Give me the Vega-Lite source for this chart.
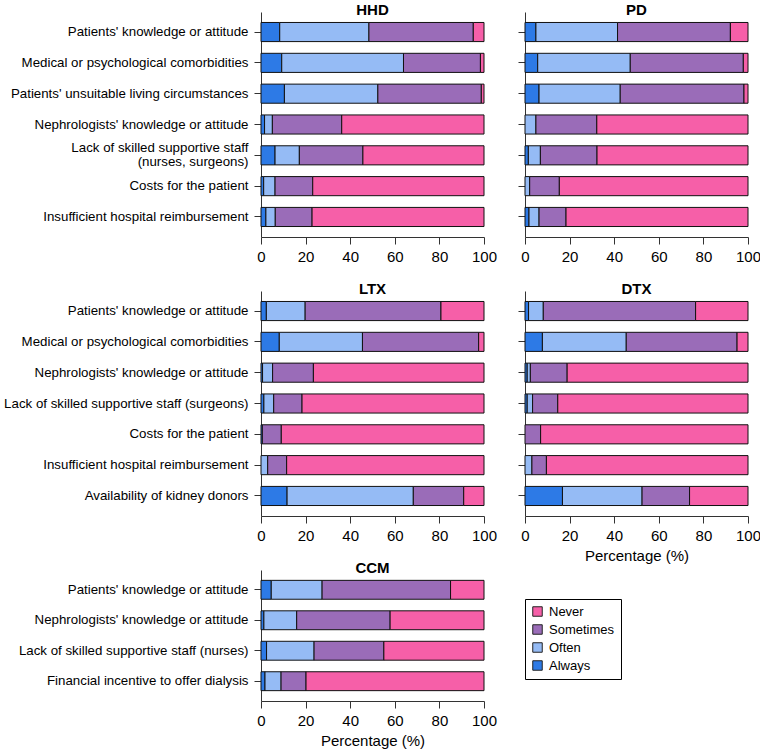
{
  "$schema": "https://vega.github.io/schema/vega-lite/v6.json",
  "padding": {"left": 3, "top": 3, "right": 2, "bottom": 2},
  "background": "white",
  "config": {
    "font": "Liberation Sans",
    "view": {"stroke": null},
    "axis": {"domainColor": "#333", "tickColor": "#333", "labelColor": "#000", "titleColor": "#000", "grid": false, "labelFont": "Liberation Sans", "titleFont": "Liberation Sans", "titleFontWeight": "normal"},
    "axisX": {"labelFontSize": 15, "titleFontSize": 15, "tickSize": 7, "labelPadding": 5, "titlePadding": 5, "values": [0, 20, 40, 60, 80, 100], "labelFlush": false},
    "axisY": {"labelFontSize": 13.3, "tickSize": 7, "labelPadding": 6},
    "title": {"fontSize": 15, "fontWeight": "bold", "offset": -6, "font": "Liberation Sans", "color": "#000"},
    "scale": {"bandPaddingInner": 0.38, "bandPaddingOuter": 0.34},
    "legend": {"strokeColor": "#000", "fillColor": "white", "padding": 6, "labelFontSize": 13, "labelFont": "Liberation Sans", "labelColor": "#000", "symbolType": "square", "symbolSize": 90, "symbolStrokeColor": "#222", "symbolStrokeWidth": 1, "rowPadding": 3, "labelOffset": 5, "cornerRadius": 0}
  },
  "datasets": {
    "d": [
      {"panel": "HHD", "item": "Patients' knowledge or attitude", "response": "Always", "ord": 1, "value": 8.4},
      {"panel": "HHD", "item": "Patients' knowledge or attitude", "response": "Often", "ord": 2, "value": 40.0},
      {"panel": "HHD", "item": "Patients' knowledge or attitude", "response": "Sometimes", "ord": 3, "value": 46.8},
      {"panel": "HHD", "item": "Patients' knowledge or attitude", "response": "Never", "ord": 4, "value": 4.8},
      {"panel": "HHD", "item": "Medical or psychological comorbidities", "response": "Always", "ord": 1, "value": 9.3},
      {"panel": "HHD", "item": "Medical or psychological comorbidities", "response": "Often", "ord": 2, "value": 54.6},
      {"panel": "HHD", "item": "Medical or psychological comorbidities", "response": "Sometimes", "ord": 3, "value": 34.5},
      {"panel": "HHD", "item": "Medical or psychological comorbidities", "response": "Never", "ord": 4, "value": 1.6},
      {"panel": "HHD", "item": "Patients' unsuitable living circumstances", "response": "Always", "ord": 1, "value": 10.5},
      {"panel": "HHD", "item": "Patients' unsuitable living circumstances", "response": "Often", "ord": 2, "value": 41.9},
      {"panel": "HHD", "item": "Patients' unsuitable living circumstances", "response": "Sometimes", "ord": 3, "value": 46.4},
      {"panel": "HHD", "item": "Patients' unsuitable living circumstances", "response": "Never", "ord": 4, "value": 1.2},
      {"panel": "HHD", "item": "Nephrologists' knowledge or attitude", "response": "Always", "ord": 1, "value": 1.6},
      {"panel": "HHD", "item": "Nephrologists' knowledge or attitude", "response": "Often", "ord": 2, "value": 3.5},
      {"panel": "HHD", "item": "Nephrologists' knowledge or attitude", "response": "Sometimes", "ord": 3, "value": 31.1},
      {"panel": "HHD", "item": "Nephrologists' knowledge or attitude", "response": "Never", "ord": 4, "value": 63.8},
      {"panel": "HHD", "item": "Lack of skilled supportive staff|(nurses, surgeons)", "response": "Always", "ord": 1, "value": 6.3},
      {"panel": "HHD", "item": "Lack of skilled supportive staff|(nurses, surgeons)", "response": "Often", "ord": 2, "value": 10.9},
      {"panel": "HHD", "item": "Lack of skilled supportive staff|(nurses, surgeons)", "response": "Sometimes", "ord": 3, "value": 28.5},
      {"panel": "HHD", "item": "Lack of skilled supportive staff|(nurses, surgeons)", "response": "Never", "ord": 4, "value": 54.3},
      {"panel": "HHD", "item": "Costs for the patient", "response": "Always", "ord": 1, "value": 1.2},
      {"panel": "HHD", "item": "Costs for the patient", "response": "Often", "ord": 2, "value": 5.1},
      {"panel": "HHD", "item": "Costs for the patient", "response": "Sometimes", "ord": 3, "value": 16.9},
      {"panel": "HHD", "item": "Costs for the patient", "response": "Never", "ord": 4, "value": 76.8},
      {"panel": "HHD", "item": "Insufficient hospital reimbursement", "response": "Always", "ord": 1, "value": 2.2},
      {"panel": "HHD", "item": "Insufficient hospital reimbursement", "response": "Often", "ord": 2, "value": 4.2},
      {"panel": "HHD", "item": "Insufficient hospital reimbursement", "response": "Sometimes", "ord": 3, "value": 16.5},
      {"panel": "HHD", "item": "Insufficient hospital reimbursement", "response": "Never", "ord": 4, "value": 77.1},

      {"panel": "PD", "item": "Patients' knowledge or attitude", "response": "Always", "ord": 1, "value": 4.9},
      {"panel": "PD", "item": "Patients' knowledge or attitude", "response": "Often", "ord": 2, "value": 36.6},
      {"panel": "PD", "item": "Patients' knowledge or attitude", "response": "Sometimes", "ord": 3, "value": 50.6},
      {"panel": "PD", "item": "Patients' knowledge or attitude", "response": "Never", "ord": 4, "value": 7.9},
      {"panel": "PD", "item": "Medical or psychological comorbidities", "response": "Always", "ord": 1, "value": 5.7},
      {"panel": "PD", "item": "Medical or psychological comorbidities", "response": "Often", "ord": 2, "value": 41.5},
      {"panel": "PD", "item": "Medical or psychological comorbidities", "response": "Sometimes", "ord": 3, "value": 50.7},
      {"panel": "PD", "item": "Medical or psychological comorbidities", "response": "Never", "ord": 4, "value": 2.1},
      {"panel": "PD", "item": "Patients' unsuitable living circumstances", "response": "Always", "ord": 1, "value": 6.3},
      {"panel": "PD", "item": "Patients' unsuitable living circumstances", "response": "Often", "ord": 2, "value": 36.4},
      {"panel": "PD", "item": "Patients' unsuitable living circumstances", "response": "Sometimes", "ord": 3, "value": 55.5},
      {"panel": "PD", "item": "Patients' unsuitable living circumstances", "response": "Never", "ord": 4, "value": 1.8},
      {"panel": "PD", "item": "Nephrologists' knowledge or attitude", "response": "Often", "ord": 2, "value": 4.9},
      {"panel": "PD", "item": "Nephrologists' knowledge or attitude", "response": "Sometimes", "ord": 3, "value": 27.3},
      {"panel": "PD", "item": "Nephrologists' knowledge or attitude", "response": "Never", "ord": 4, "value": 67.8},
      {"panel": "PD", "item": "Lack of skilled supportive staff|(nurses, surgeons)", "response": "Always", "ord": 1, "value": 1.5},
      {"panel": "PD", "item": "Lack of skilled supportive staff|(nurses, surgeons)", "response": "Often", "ord": 2, "value": 5.4},
      {"panel": "PD", "item": "Lack of skilled supportive staff|(nurses, surgeons)", "response": "Sometimes", "ord": 3, "value": 25.4},
      {"panel": "PD", "item": "Lack of skilled supportive staff|(nurses, surgeons)", "response": "Never", "ord": 4, "value": 67.7},
      {"panel": "PD", "item": "Costs for the patient", "response": "Often", "ord": 2, "value": 2.1},
      {"panel": "PD", "item": "Costs for the patient", "response": "Sometimes", "ord": 3, "value": 13.3},
      {"panel": "PD", "item": "Costs for the patient", "response": "Never", "ord": 4, "value": 84.6},
      {"panel": "PD", "item": "Insufficient hospital reimbursement", "response": "Always", "ord": 1, "value": 1.8},
      {"panel": "PD", "item": "Insufficient hospital reimbursement", "response": "Often", "ord": 2, "value": 4.5},
      {"panel": "PD", "item": "Insufficient hospital reimbursement", "response": "Sometimes", "ord": 3, "value": 12.1},
      {"panel": "PD", "item": "Insufficient hospital reimbursement", "response": "Never", "ord": 4, "value": 81.6},

      {"panel": "LTX", "item": "Patients' knowledge or attitude", "response": "Always", "ord": 1, "value": 2.4},
      {"panel": "LTX", "item": "Patients' knowledge or attitude", "response": "Often", "ord": 2, "value": 17.4},
      {"panel": "LTX", "item": "Patients' knowledge or attitude", "response": "Sometimes", "ord": 3, "value": 60.9},
      {"panel": "LTX", "item": "Patients' knowledge or attitude", "response": "Never", "ord": 4, "value": 19.3},
      {"panel": "LTX", "item": "Medical or psychological comorbidities", "response": "Always", "ord": 1, "value": 8.2},
      {"panel": "LTX", "item": "Medical or psychological comorbidities", "response": "Often", "ord": 2, "value": 37.3},
      {"panel": "LTX", "item": "Medical or psychological comorbidities", "response": "Sometimes", "ord": 3, "value": 52.1},
      {"panel": "LTX", "item": "Medical or psychological comorbidities", "response": "Never", "ord": 4, "value": 2.4},
      {"panel": "LTX", "item": "Nephrologists' knowledge or attitude", "response": "Always", "ord": 1, "value": 0.7},
      {"panel": "LTX", "item": "Nephrologists' knowledge or attitude", "response": "Often", "ord": 2, "value": 4.5},
      {"panel": "LTX", "item": "Nephrologists' knowledge or attitude", "response": "Sometimes", "ord": 3, "value": 18.3},
      {"panel": "LTX", "item": "Nephrologists' knowledge or attitude", "response": "Never", "ord": 4, "value": 76.5},
      {"panel": "LTX", "item": "Lack of skilled supportive staff (surgeons)", "response": "Always", "ord": 1, "value": 1.3},
      {"panel": "LTX", "item": "Lack of skilled supportive staff (surgeons)", "response": "Often", "ord": 2, "value": 4.4},
      {"panel": "LTX", "item": "Lack of skilled supportive staff (surgeons)", "response": "Sometimes", "ord": 3, "value": 12.7},
      {"panel": "LTX", "item": "Lack of skilled supportive staff (surgeons)", "response": "Never", "ord": 4, "value": 81.6},
      {"panel": "LTX", "item": "Costs for the patient", "response": "Always", "ord": 1, "value": 0.6},
      {"panel": "LTX", "item": "Costs for the patient", "response": "Sometimes", "ord": 3, "value": 8.5},
      {"panel": "LTX", "item": "Costs for the patient", "response": "Never", "ord": 4, "value": 90.9},
      {"panel": "LTX", "item": "Insufficient hospital reimbursement", "response": "Often", "ord": 2, "value": 3.0},
      {"panel": "LTX", "item": "Insufficient hospital reimbursement", "response": "Sometimes", "ord": 3, "value": 8.5},
      {"panel": "LTX", "item": "Insufficient hospital reimbursement", "response": "Never", "ord": 4, "value": 88.5},
      {"panel": "LTX", "item": "Availability of kidney donors", "response": "Always", "ord": 1, "value": 11.7},
      {"panel": "LTX", "item": "Availability of kidney donors", "response": "Often", "ord": 2, "value": 56.6},
      {"panel": "LTX", "item": "Availability of kidney donors", "response": "Sometimes", "ord": 3, "value": 22.6},
      {"panel": "LTX", "item": "Availability of kidney donors", "response": "Never", "ord": 4, "value": 9.1},

      {"panel": "DTX", "item": "Patients' knowledge or attitude", "response": "Always", "ord": 1, "value": 1.6},
      {"panel": "DTX", "item": "Patients' knowledge or attitude", "response": "Often", "ord": 2, "value": 6.6},
      {"panel": "DTX", "item": "Patients' knowledge or attitude", "response": "Sometimes", "ord": 3, "value": 68.3},
      {"panel": "DTX", "item": "Patients' knowledge or attitude", "response": "Never", "ord": 4, "value": 23.5},
      {"panel": "DTX", "item": "Medical or psychological comorbidities", "response": "Always", "ord": 1, "value": 7.8},
      {"panel": "DTX", "item": "Medical or psychological comorbidities", "response": "Often", "ord": 2, "value": 37.6},
      {"panel": "DTX", "item": "Medical or psychological comorbidities", "response": "Sometimes", "ord": 3, "value": 49.7},
      {"panel": "DTX", "item": "Medical or psychological comorbidities", "response": "Never", "ord": 4, "value": 4.9},
      {"panel": "DTX", "item": "Nephrologists' knowledge or attitude", "response": "Always", "ord": 1, "value": 1.0},
      {"panel": "DTX", "item": "Nephrologists' knowledge or attitude", "response": "Often", "ord": 2, "value": 1.4},
      {"panel": "DTX", "item": "Nephrologists' knowledge or attitude", "response": "Sometimes", "ord": 3, "value": 16.5},
      {"panel": "DTX", "item": "Nephrologists' knowledge or attitude", "response": "Never", "ord": 4, "value": 81.1},
      {"panel": "DTX", "item": "Lack of skilled supportive staff (surgeons)", "response": "Always", "ord": 1, "value": 1.0},
      {"panel": "DTX", "item": "Lack of skilled supportive staff (surgeons)", "response": "Often", "ord": 2, "value": 2.4},
      {"panel": "DTX", "item": "Lack of skilled supportive staff (surgeons)", "response": "Sometimes", "ord": 3, "value": 11.3},
      {"panel": "DTX", "item": "Lack of skilled supportive staff (surgeons)", "response": "Never", "ord": 4, "value": 85.3},
      {"panel": "DTX", "item": "Costs for the patient", "response": "Sometimes", "ord": 3, "value": 7.0},
      {"panel": "DTX", "item": "Costs for the patient", "response": "Never", "ord": 4, "value": 93.0},
      {"panel": "DTX", "item": "Insufficient hospital reimbursement", "response": "Often", "ord": 2, "value": 3.1},
      {"panel": "DTX", "item": "Insufficient hospital reimbursement", "response": "Sometimes", "ord": 3, "value": 6.5},
      {"panel": "DTX", "item": "Insufficient hospital reimbursement", "response": "Never", "ord": 4, "value": 90.4},
      {"panel": "DTX", "item": "Availability of kidney donors", "response": "Always", "ord": 1, "value": 16.8},
      {"panel": "DTX", "item": "Availability of kidney donors", "response": "Often", "ord": 2, "value": 35.7},
      {"panel": "DTX", "item": "Availability of kidney donors", "response": "Sometimes", "ord": 3, "value": 21.3},
      {"panel": "DTX", "item": "Availability of kidney donors", "response": "Never", "ord": 4, "value": 26.2},

      {"panel": "CCM", "item": "Patients' knowledge or attitude", "response": "Always", "ord": 1, "value": 4.6},
      {"panel": "CCM", "item": "Patients' knowledge or attitude", "response": "Often", "ord": 2, "value": 22.8},
      {"panel": "CCM", "item": "Patients' knowledge or attitude", "response": "Sometimes", "ord": 3, "value": 57.6},
      {"panel": "CCM", "item": "Patients' knowledge or attitude", "response": "Never", "ord": 4, "value": 15.0},
      {"panel": "CCM", "item": "Nephrologists' knowledge or attitude", "response": "Always", "ord": 1, "value": 1.3},
      {"panel": "CCM", "item": "Nephrologists' knowledge or attitude", "response": "Often", "ord": 2, "value": 14.7},
      {"panel": "CCM", "item": "Nephrologists' knowledge or attitude", "response": "Sometimes", "ord": 3, "value": 41.9},
      {"panel": "CCM", "item": "Nephrologists' knowledge or attitude", "response": "Never", "ord": 4, "value": 42.1},
      {"panel": "CCM", "item": "Lack of skilled supportive staff (nurses)", "response": "Always", "ord": 1, "value": 2.5},
      {"panel": "CCM", "item": "Lack of skilled supportive staff (nurses)", "response": "Often", "ord": 2, "value": 21.3},
      {"panel": "CCM", "item": "Lack of skilled supportive staff (nurses)", "response": "Sometimes", "ord": 3, "value": 31.3},
      {"panel": "CCM", "item": "Lack of skilled supportive staff (nurses)", "response": "Never", "ord": 4, "value": 44.9},
      {"panel": "CCM", "item": "Financial incentive to offer dialysis", "response": "Always", "ord": 1, "value": 1.8},
      {"panel": "CCM", "item": "Financial incentive to offer dialysis", "response": "Often", "ord": 2, "value": 7.2},
      {"panel": "CCM", "item": "Financial incentive to offer dialysis", "response": "Sometimes", "ord": 3, "value": 11.2},
      {"panel": "CCM", "item": "Financial incentive to offer dialysis", "response": "Never", "ord": 4, "value": 79.8}
    ]
  },
  "columns": 2,
  "bounds": "flush",
  "spacing": {"row": 54, "column": 41},
  "resolve": {"scale": {"y": "independent", "color": "shared"}},
  "concat": [
    {
      "title": "HHD",
      "width": 223, "height": 225,
      "data": {"name": "d"},
      "transform": [{"filter": "datum.panel === 'HHD'"}],
      "mark": {"type": "bar", "stroke": "#111", "strokeWidth": 1},
      "encoding": {
        "y": {"field": "item", "type": "nominal", "title": null,
          "sort": ["Patients' knowledge or attitude", "Medical or psychological comorbidities", "Patients' unsuitable living circumstances", "Nephrologists' knowledge or attitude", "Lack of skilled supportive staff|(nurses, surgeons)", "Costs for the patient", "Insufficient hospital reimbursement"],
          "axis": {"labelExpr": "split(datum.label, '|')", "labelLimit": 300, "labelLineHeight": 13.5,
            "labelOffset": {"condition": {"test": "indexof(datum.value, '|') >= 0", "value": -7}, "value": 0}}},
        "x": {"field": "value", "type": "quantitative", "stack": "zero", "scale": {"domain": [0, 100], "nice": false}, "axis": {"title": null}},
        "color": {"field": "response", "type": "nominal", "scale": {"domain": ["Never", "Sometimes", "Often", "Always"], "range": ["#F65FA8", "#9A6CB8", "#95BBF5", "#2D7AE6"]},
          "legend": {"title": null, "orient": "none", "legendX": 264, "legendY": 587}},
        "order": {"field": "ord", "type": "quantitative"}
      }
    },
    {
      "title": "PD",
      "width": 223, "height": 225,
      "data": {"name": "d"},
      "transform": [{"filter": "datum.panel === 'PD'"}],
      "mark": {"type": "bar", "stroke": "#111", "strokeWidth": 1},
      "encoding": {
        "y": {"field": "item", "type": "nominal", "title": null,
          "sort": ["Patients' knowledge or attitude", "Medical or psychological comorbidities", "Patients' unsuitable living circumstances", "Nephrologists' knowledge or attitude", "Lack of skilled supportive staff|(nurses, surgeons)", "Costs for the patient", "Insufficient hospital reimbursement"],
          "axis": {"labels": false}},
        "x": {"field": "value", "type": "quantitative", "stack": "zero", "scale": {"domain": [0, 100], "nice": false}, "axis": {"title": null}},
        "color": {"field": "response", "type": "nominal"},
        "order": {"field": "ord", "type": "quantitative"}
      }
    },
    {
      "title": "LTX",
      "width": 223, "height": 225,
      "data": {"name": "d"},
      "transform": [{"filter": "datum.panel === 'LTX'"}],
      "mark": {"type": "bar", "stroke": "#111", "strokeWidth": 1},
      "encoding": {
        "y": {"field": "item", "type": "nominal", "title": null,
          "sort": ["Patients' knowledge or attitude", "Medical or psychological comorbidities", "Nephrologists' knowledge or attitude", "Lack of skilled supportive staff (surgeons)", "Costs for the patient", "Insufficient hospital reimbursement", "Availability of kidney donors"],
          "axis": {"labelLimit": 300}},
        "x": {"field": "value", "type": "quantitative", "stack": "zero", "scale": {"domain": [0, 100], "nice": false}, "axis": {"title": null}},
        "color": {"field": "response", "type": "nominal"},
        "order": {"field": "ord", "type": "quantitative"}
      }
    },
    {
      "title": "DTX",
      "width": 223, "height": 225,
      "data": {"name": "d"},
      "transform": [{"filter": "datum.panel === 'DTX'"}],
      "mark": {"type": "bar", "stroke": "#111", "strokeWidth": 1},
      "encoding": {
        "y": {"field": "item", "type": "nominal", "title": null,
          "sort": ["Patients' knowledge or attitude", "Medical or psychological comorbidities", "Nephrologists' knowledge or attitude", "Lack of skilled supportive staff (surgeons)", "Costs for the patient", "Insufficient hospital reimbursement", "Availability of kidney donors"],
          "axis": {"labels": false}},
        "x": {"field": "value", "type": "quantitative", "stack": "zero", "scale": {"domain": [0, 100], "nice": false}, "axis": {"title": "Percentage (%)"}},
        "color": {"field": "response", "type": "nominal"},
        "order": {"field": "ord", "type": "quantitative"}
      }
    },
    {
      "title": "CCM",
      "width": 223, "height": 131,
      "data": {"name": "d"},
      "transform": [{"filter": "datum.panel === 'CCM'"}],
      "mark": {"type": "bar", "stroke": "#111", "strokeWidth": 1},
      "encoding": {
        "y": {"field": "item", "type": "nominal", "title": null,
          "sort": ["Patients' knowledge or attitude", "Nephrologists' knowledge or attitude", "Lack of skilled supportive staff (nurses)", "Financial incentive to offer dialysis"],
          "axis": {"labelLimit": 300}},
        "x": {"field": "value", "type": "quantitative", "stack": "zero", "scale": {"domain": [0, 100], "nice": false}, "axis": {"title": "Percentage (%)"}},
        "color": {"field": "response", "type": "nominal"},
        "order": {"field": "ord", "type": "quantitative"}
      }
    }
  ]
}
